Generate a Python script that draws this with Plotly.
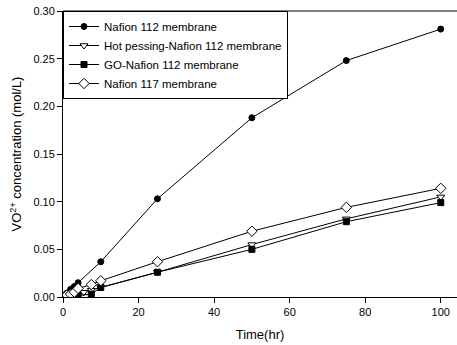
import plotly.graph_objects as go

t_n112 = [0, 1, 2, 3, 4, 10, 25, 50, 75, 100]
c_n112 = [0.0, 0.004, 0.008, 0.011, 0.015, 0.037, 0.103, 0.188, 0.248, 0.281]

t_hot = [0, 1, 2, 3, 4, 5.5, 7.5, 10, 25, 50, 75, 100]
c_hot = [0.0, 0.001, 0.002, 0.003, 0.004, 0.005, 0.007, 0.010, 0.026, 0.055, 0.082, 0.105]

t_go = [0, 1, 2, 3, 4, 7.5, 10, 25, 50, 75, 100]
c_go = [0.0, 0.0005, 0.001, 0.0015, 0.002, 0.003, 0.010, 0.026, 0.050, 0.079, 0.099]

t_117 = [0, 1, 2, 3, 4, 7.5, 10, 25, 50, 75, 100]
c_117 = [0.0, 0.002, 0.003, 0.005, 0.009, 0.013, 0.017, 0.037, 0.069, 0.094, 0.114]

names = ["Nafion 112 membrane", "Hot pessing-Nafion 112 membrane",
         "GO-Nafion 112 membrane", "Nafion 117 membrane"]

fig = go.Figure()
series = [
    (t_n112, c_n112, "circle", "black", 6),
    (t_hot, c_hot, "triangle-down", "white", 7),
    (t_go, c_go, "square", "black", 6),
    (t_117, c_117, "diamond", "white", 8),
]
for (x, y, sym, fill, size), name in zip(series, names):
    fig.add_trace(go.Scatter(
        x=x, y=y, mode="lines+markers", name=name,
        line=dict(color="black", width=1),
        marker=dict(symbol=sym, size=size, color=fill,
                    line=dict(color="black", width=1)),
    ))

fig.update_layout(
    width=457, height=345,
    margin=dict(l=63, r=0, t=11, b=48),
    paper_bgcolor="white", plot_bgcolor="white",
    font=dict(family="Liberation Sans, Arial, sans-serif", color="black", size=11),
    showlegend=True,
    legend=dict(x=0, y=1, xanchor="left", yanchor="top",
                bordercolor="black", borderwidth=1, bgcolor="white",
                font=dict(size=11.5), tracegroupgap=0, itemwidth=30),
    xaxis=dict(range=[0, 104.3], tickvals=[0, 20, 40, 60, 80, 100],
               showline=True, linecolor="black", linewidth=1,
               ticks="outside", ticklen=5, tickcolor="black",
               showgrid=False, zeroline=False,
               title=dict(text="Time(hr)", font=dict(size=13), standoff=12)),
    yaxis=dict(range=[0, 0.30], tickvals=[0, 0.05, 0.10, 0.15, 0.20, 0.25, 0.30],
               tickformat=".2f",
               showline=True, linecolor="black", linewidth=1,
               ticks="outside", ticklen=5, tickcolor="black",
               showgrid=False, zeroline=False,
               title=dict(text="VO<sup>2+</sup> concentration (mol/L)",
                          font=dict(size=13), standoff=8)),
)
fig.add_shape(type="line", xref="paper", yref="paper", x0=0, x1=1, y0=1, y1=1,
              line=dict(color="black", width=1))

fig.write_html("out.html")
